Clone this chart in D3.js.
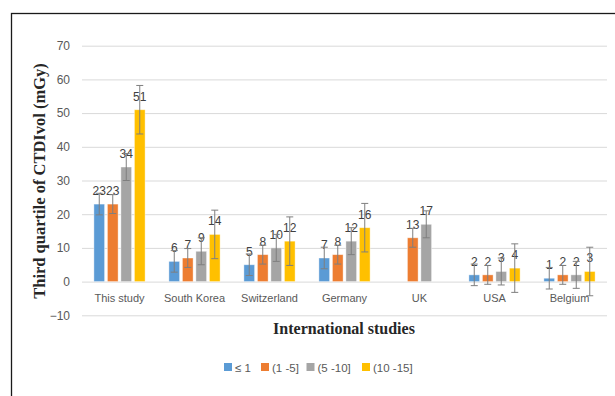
<!DOCTYPE html>
<html>
<head>
<meta charset="utf-8">
<script src="https://cdn.jsdelivr.net/npm/d3@7"></script>
<style>
  html, body { margin: 0; padding: 0; background: #fff; }
  svg { display: block; }
</style>
</head>
<body>
<svg id="chart" width="615" height="396"></svg>
<script>
// ---- Data ----
const categories = ["This study", "South Korea", "Switzerland", "Germany", "UK", "USA", "Belgium"];
const seriesNames = ["\u2264 1", "(1 -5]", "(5 -10]", "(10 -15]"];
const seriesColors = ["#5B9BD5", "#ED7D31", "#A5A5A5", "#FFC000"];
const valuesLe1   = [23, 6, 5, 7, null, 2, 1];
const values1to5  = [23, 7, 8, 8, 13, 2, 2];
const values5to10 = [34, 9, 10, 12, 17, 3, 2];
const values10to15= [51, 14, 12, 16, null, 4, 3];
const errLe1   = [3.2, 3.2, 3.2, 3.2, null, 3.2, 3.2];
const err1to5  = [2.8, 2.8, 2.8, 2.8, 2.8, 2.8, 2.8];
const err5to10 = [4.0, 4.0, 4.0, 4.0, 4.0, 4.0, 4.0];
const err10to15= [7.2, 7.2, 7.2, 7.2, null, 7.2, 7.2];
const yTicks = [-10, 0, 10, 20, 30, 40, 50, 60, 70];

const seriesValues = [valuesLe1, values1to5, values5to10, values10to15];
const seriesErrors = [errLe1, err1to5, err5to10, err10to15];

// ---- Layout ----
const svg = d3.select("#chart");
const plotLeft = 82, plotRight = 607, plotTop = 45.7, plotBottom = 315.3;

const x = d3.scaleBand().domain(categories).range([plotLeft, plotRight]).paddingInner(0).paddingOuter(0);
const y = d3.scaleLinear().domain([-10, 70]).range([plotBottom, plotTop]);
const slotStep = 13.5, barW = 10.7;
const xs = d3.scaleBand().domain(d3.range(seriesNames.length)).range([-2 * slotStep, 2 * slotStep]);

// Outer frame
svg.append("rect")
  .attr("x", 11.5).attr("y", 13.5)
  .attr("width", 700).attr("height", 500)
  .attr("fill", "none").attr("stroke", "#1a1a1a").attr("stroke-width", 1.3);

// Gridlines
const yAxis = d3.axisLeft(y).tickValues(yTicks).tickSize(-(plotRight - plotLeft)).tickPadding(12);
const gy = svg.append("g").attr("transform", `translate(${plotLeft},0)`).call(yAxis);
gy.select(".domain").remove();
gy.selectAll(".tick line").attr("stroke", "#d9d9d9").attr("stroke-width", 1);
gy.selectAll(".tick text")
  .attr("fill", "#595959")
  .style("font-family", "'Liberation Sans', Arial, sans-serif")
  .style("font-size", "12px");

// Bars
const groups = svg.append("g");
seriesValues.forEach((vals, si) => {
  const g = groups.append("g");
  const data = categories.map((c, ci) => ({ c, v: vals[ci], e: seriesErrors[si][ci] })).filter(d => d.v != null);
  const cx = d => x(d.c) + x.bandwidth() / 2 + xs(si) + xs.bandwidth() / 2;
  g.selectAll("rect").data(data).enter().append("rect")
    .attr("x", d => cx(d) - barW / 2)
    .attr("y", d => y(Math.max(0, d.v)))
    .attr("width", barW)
    .attr("height", d => Math.abs(y(d.v) - y(0)))
    .attr("fill", seriesColors[si])
    .attr("stroke", "#fff").attr("stroke-opacity", 0.5).attr("stroke-width", 0.8);
});

// Data labels
seriesValues.forEach((vals, si) => {
  const data = categories.map((c, ci) => ({ c, v: vals[ci] })).filter(d => d.v != null);
  const cx = d => x(d.c) + x.bandwidth() / 2 + xs(si) + xs.bandwidth() / 2;
  svg.append("g").selectAll("text").data(data).enter().append("text")
    .attr("x", cx)
    .attr("y", d => y(d.v) - 9)
    .attr("text-anchor", "middle")
    .attr("fill", "#404040")
    .style("font-family", "'Liberation Sans', Arial, sans-serif")
    .style("font-size", "12px")
    .text(d => d.v);
});

// Error bars
seriesValues.forEach((vals, si) => {
  const data = categories.map((c, ci) => ({ c, v: vals[ci], e: seriesErrors[si][ci] })).filter(d => d.v != null && d.e != null);
  const cx = d => x(d.c) + x.bandwidth() / 2 + xs(si) + xs.bandwidth() / 2;
  const g = svg.append("g").attr("stroke", "#7f7f7f").attr("stroke-width", 1).attr("fill", "none");
  data.forEach(d => {
    const px = cx(d);
    const y1 = y(d.v + d.e), y2 = y(d.v - d.e);
    g.append("line").attr("x1", px).attr("x2", px).attr("y1", y1).attr("y2", y2);
    g.append("line").attr("x1", px - 3.5).attr("x2", px + 3.5).attr("y1", y1).attr("y2", y1);
    g.append("line").attr("x1", px - 3.5).attr("x2", px + 3.5).attr("y1", y2).attr("y2", y2);
  });
});

// Category labels (axis at y=0)
const xAxis = d3.axisBottom(x).tickSize(0).tickPadding(0);
const gx = svg.append("g").attr("transform", `translate(0,${y(0)})`).call(xAxis);
gx.select(".domain").remove();
gx.selectAll(".tick text")
  .attr("y", 20).attr("dy", 0)
  .attr("fill", "#595959")
  .style("font-family", "'Liberation Sans', Arial, sans-serif")
  .style("font-size", "11px");

// Axis titles
svg.append("text")
  .attr("transform", `translate(45,181) rotate(-90)`)
  .attr("text-anchor", "middle")
  .attr("fill", "#262626")
  .style("font-family", "'Liberation Serif', 'Times New Roman', serif")
  .style("font-weight", "bold")
  .style("font-size", "16.5px")
  .text("Third quartile of CTDIvol (mGy)");

svg.append("text")
  .attr("x", 344).attr("y", 334)
  .attr("text-anchor", "middle")
  .attr("fill", "#262626")
  .style("font-family", "'Liberation Serif', 'Times New Roman', serif")
  .style("font-weight", "bold")
  .style("font-size", "16px")
  .text("International studies");

// Legend
const legendX = [224, 261, 306.5, 362];
const lg = svg.append("g");
seriesNames.forEach((n, i) => {
  lg.append("rect").attr("x", legendX[i]).attr("y", 363).attr("width", 8).attr("height", 8).attr("fill", seriesColors[i]);
  lg.append("text").attr("x", legendX[i] + 11).attr("y", 371.5)
    .attr("fill", "#595959")
    .style("font-family", "'Liberation Sans', Arial, sans-serif")
    .style("font-size", "11.5px")
    .text(n);
});
</script>
</body>
</html>
